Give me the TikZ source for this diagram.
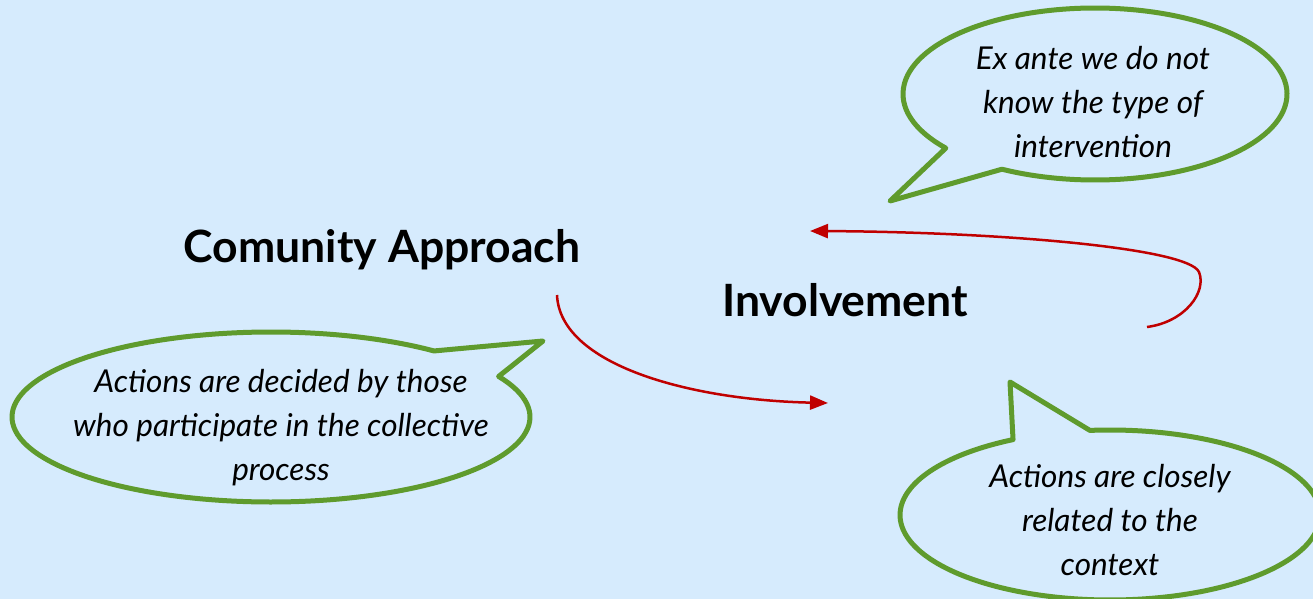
\documentclass[tikz,border=0pt]{standalone}
\usepackage{fontspec}
\setmainfont{Lato}
\usetikzlibrary{arrows.meta}
\definecolor{bgblue}{RGB}{214,235,253}
\definecolor{leafgreen}{RGB}{95,155,45}
\definecolor{arrowred}{RGB}{192,0,0}
\begin{document}
\begin{tikzpicture}[x=1pt,y=-1pt,
  bubble/.style={draw=leafgreen, line width=5pt, line join=round},
  bubbletext/.style={align=center, font=\fontsize{31.5}{44}\selectfont\itshape, inner sep=0pt},
  title/.style={font=\fontsize{44.5}{50}\selectfont\bfseries, inner sep=0pt},
  link/.style={draw=arrowred, line width=2.5pt, -{Triangle[length=18pt,width=14pt]}}]
\fill[bgblue] (0,0) rectangle (1313,599);
\useasboundingbox (0,0) rectangle (1313,599);
\clip (0,0) rectangle (1313,599);

% speech bubbles: elliptical outline with a pointed tail
\draw[bubble] plot[domain=141:479, samples=120, smooth] ({1095+192*cos(\x)},{94+86*sin(\x)})
  -- (890,201) -- cycle;
\draw[bubble] plot[domain=-28.5:309, samples=140, smooth] ({271+259*cos(\x)},{417+85*sin(\x)})
  -- (543,341) -- cycle;
\draw[bubble] plot[domain=264.5:602.5, samples=140, smooth] ({1110+210*cos(\x)},{515+85*sin(\x)})
  -- (1010,382) -- cycle;

% bubble texts
\node[bubbletext] (exante) at (1093,102) {Ex ante we do not\\know the type of\\intervention};
\node[bubbletext] (decided) at (281,428) {Actions are decided by those\\who participate in the collective\\process};
\node[bubbletext] (context) at (1110,520) {Actions are closely\\related to the\\context};

% main terms
\node[title] (community) at (382,250) {Comunity Approach};
\node[title] (involve) at (845,300) {Involvement};

% connectors
\coordinate (c1s) at (557,295);
\coordinate (c1e) at (828,403);
\coordinate (c2s) at (1147,327);
\coordinate (c2m) at (1199,272);
\coordinate (c2e) at (810,231);
\draw[link] (c1s) .. controls (560,365) and (690,400) .. (c1e);
\draw[link] (c2s) .. controls (1185,322) and (1207,292) .. (c2m)
  .. controls (1188,248) and (1000,232) .. (c2e);
\end{tikzpicture}
\end{document}
